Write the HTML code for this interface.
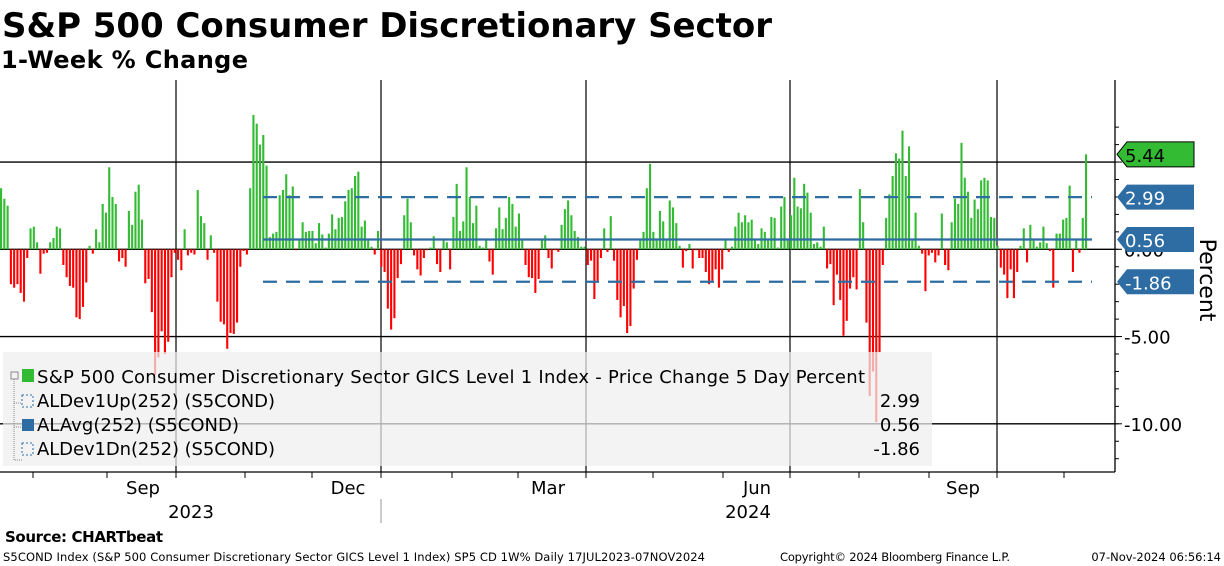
<!DOCTYPE html>
<html><head><meta charset="utf-8"><style>
body{margin:0;background:#fff;width:1224px;height:566px;overflow:hidden;font-family:"DejaVu Sans","Liberation Sans",sans-serif}
svg{position:absolute;left:0;top:0}
</style></head><body>
<svg id="c" width="1224" height="566" xmlns="http://www.w3.org/2000/svg">
<text x="2" y="37" font-size="34" font-weight="bold" font-family="DejaVu Sans,sans-serif" textLength="770">S&amp;P 500 Consumer Discretionary Sector</text>
<text x="1" y="68" font-size="24" font-weight="bold" font-family="DejaVu Sans,sans-serif" textLength="247">1-Week % Change</text>
<g id="grid"></g>
<g id="bars"></g>
<g id="lines"></g>
<rect x="3" y="352" width="929" height="114" fill="rgba(238,238,238,0.72)"/>
<g font-size="18" font-family="DejaVu Sans,sans-serif" fill="#000">
<g><rect x="11" y="372" width="7" height="7" fill="none" stroke="#888"/><rect x="22" y="369" width="12" height="13" fill="#33bb33"/><text x="37" y="383" textLength="828">S&amp;P 500 Consumer Discretionary Sector GICS Level 1 Index - Price Change 5 Day Percent</text></g>
<g><rect x="22" y="395" width="11" height="12" fill="none" stroke="#2e6ca4" stroke-dasharray="2,2"/><text x="37" y="407" textLength="238">ALDev1Up(252) (S5COND)</text><text x="920" y="407" text-anchor="end">2.99</text></g>
<g><rect x="22" y="419" width="12" height="12" fill="#2e6ca4"/><text x="37" y="431" textLength="202">ALAvg(252) (S5COND)</text><text x="920" y="431" text-anchor="end">0.56</text></g>
<g><rect x="22" y="443" width="11" height="12" fill="none" stroke="#2e6ca4" stroke-dasharray="2,2"/><text x="37" y="455" textLength="238">ALDev1Dn(252) (S5COND)</text><text x="920" y="455" text-anchor="end">-1.86</text></g>
<path d="M14 379 V460 H22 M14 403 H22 M14 427 H22" stroke="#888" fill="none" stroke-dasharray="1,1"/>
</g>
<g id="axis"></g>
<g id="xaxis"></g>
<text transform="translate(1200,280) rotate(90)" font-size="22" text-anchor="middle" font-family="DejaVu Sans,sans-serif">Percent</text>
<text x="5" y="542" font-size="15" font-weight="bold" font-family="DejaVu Sans,sans-serif" textLength="158">Source: CHARTbeat</text>
<text x="3" y="561" font-size="11.5" font-family="DejaVu Sans,sans-serif" textLength="702">S5COND Index (S&amp;P 500 Consumer Discretionary Sector GICS Level 1 Index) SP5 CD 1W%  Daily 17JUL2023-07NOV2024</text>
<text x="780" y="561" font-size="11.5" font-family="DejaVu Sans,sans-serif" textLength="230">Copyright© 2024 Bloomberg Finance L.P.</text>
<text x="1221" y="561" font-size="11.5" text-anchor="end" font-family="DejaVu Sans,sans-serif">07-Nov-2024 06:56:14</text>
</svg>
<script>
const values=[3.5,2.9,2.5,-2.0,-2.2,-2.0,-2.5,-3.0,-0.5,1.2,1.3,0.4,-1.4,-0.25,-0.2,0.4,0.65,1.3,1.2,-0.9,-1.6,-2.1,-2.2,-3.9,-4.0,-3.3,-1.9,0.2,-0.25,1.15,0.4,2.6,2.1,4.7,3.0,2.6,-0.7,-0.5,-1.0,2.2,1.4,3.3,3.7,1.7,-1.95,-1.7,-3.6,-7.2,-6.2,-4.7,-6.0,-5.3,-1.6,-0.2,-0.6,-1.2,1.15,-0.35,
-0.2,-0.3,3.4,1.9,1.5,-0.6,0.8,-0.2,-3.0,-4.15,-4.3,-5.7,-4.8,-4.85,-4.2,-1.0,-0.1,-0.3,3.5,7.7,7.2,6.0,6.55,4.8,0.7,0.9,1.0,3.1,3.4,4.3,3.1,3.6,-0.05,0.5,1.55,1.0,1.05,1.05,0.35,1.5,0.85,0.1,0.9,2.0,1.15,1.8,1.85,2.75,3.4,3.5,4.2,4.45,1.3,1.65,0.5,0.15,-0.3,1.05,-1.0,-1.3,
-3.4,-4.6,-3.95,-1.65,-0.85,1.95,2.9,1.55,-0.35,-1.15,-1.5,-0.5,-0.05,0.1,0.75,-0.85,-1.3,0.5,0.4,-1.15,1.85,3.75,1.05,1.6,4.7,3.0,1.5,2.5,0.2,0.1,0.5,-0.7,-1.45,1.2,2.4,1.15,1.8,3.0,2.6,1.3,2.05,0.5,-0.9,-1.6,-1.65,-2.5,-1.7,0.6,0.8,-0.5,-1.1,-0.05,-0.15,1.4,2.3,2.8,1.95,1.05,0.7,
0.15,0.15,-0.9,-0.65,-2.85,-1.8,-0.5,1.2,-0.15,1.9,-0.65,-2.9,-3.9,-3.25,-4.8,-4.4,-2.25,-0.6,0.5,1.0,3.5,4.9,1.0,0.5,2.2,1.6,0.5,2.8,2.4,1.5,0.2,-1.05,-0.1,0.3,-1.1,-0.05,-0.5,-0.5,-1.3,-2.0,-1.8,-1.15,-2.2,-1.15,0.5,-0.15,0.15,1.3,2.1,1.55,1.95,1.55,1.7,0.5,0.3,1.2,1.0,0.5,1.85,1.8,
0.1,2.45,3.0,0.5,1.95,4.1,2.45,2.35,3.75,3.25,2.1,0.3,0.4,0.15,1.3,-1.1,-0.85,-3.2,-1.45,-2.9,-4.95,-4.1,-2.25,-1.6,-2.3,3.45,1.55,-4.2,-8.4,-7.0,-9.9,-5.9,-0.9,1.8,3.15,4.2,5.5,5.2,6.8,4.2,5.9,0.5,2.1,0.2,-0.25,-2.4,-0.35,-0.2,-0.75,-0.35,2.05,-0.9,-1.2,
1.55,2.9,2.6,6.1,4.1,3.3,1.8,2.85,2.3,3.95,4.1,3.95,1.85,1.8,0.2,-1.05,-1.45,-2.8,-1.15,-2.8,-1.3,0.2,1.2,-0.75,1.4,0.5,0.15,0.4,1.3,0.35,-0.1,-2.2,0.9,0.9,1.7,1.8,3.65,-1.3,0.5,-0.2,1.8,5.44];
const bandValues=[2.99,0.56,-1.86];
const bandNames=['dev-up-line','avg-line','dev-down-line'];
const tagValues=[5.44,2.99,0.56,-1.86];
const tagLabels=['5.44','2.99','0.56','-1.86'];
const yTicks=[5,0,-5,-10];
const yTickLabels=['','0.00','-5.00','-10.00'];
const monthLabels=['Sep','Dec','Mar','Jun','Sep'];
const monthLabelX=[143,348,548,757,963];
const quarterLines=[176,381,586,790,997];
const yearLabels=['2023','2024'];
const yearLabelX=[191,748];

const NS='http://www.w3.org/2000/svg';
const y=v=>249.3-v*17.45;
const x0=1,x1=1086;
const xb=i=>x0+i*(x1-x0)/(values.length-1);
function mk(tag,attrs,parent){const e=document.createElementNS(NS,tag);for(const k in attrs)e.setAttribute(k,attrs[k]);parent.appendChild(e);return e;}
const grid=document.getElementById('grid');
yTicks.forEach(t=>{const l=mk('line',{x1:0,x2:1115,y1:y(t),y2:y(t),stroke:'#000','stroke-width':1.3},grid);

});
quarterLines.forEach(q=>{const l=mk('line',{x1:q,x2:q,y1:80,y2:472,stroke:'#000','stroke-width':1.2},grid);

});
const bars=document.getElementById('bars');
values.forEach((v,i)=>{const top=Math.min(y(v),y(0)),h=Math.max(Math.abs(y(v)-y(0)),0.8);
const r=mk('rect',{x:xb(i)-1,y:top,width:2.1,height:h,fill:v>=0?'#33bb33':'#ff0000'},bars);

});
const lines=document.getElementById('lines');
bandValues.forEach((b,i)=>{const l=mk('line',{x1:263,x2:1092,y1:y(b),y2:y(b),stroke:'#2e6ca4','stroke-width':2.2},lines);
if(i!==1)l.setAttribute('stroke-dasharray','14,9');

});
const ax=document.getElementById('axis');
mk('line',{x1:1115,x2:1115,y1:80,y2:472,stroke:'#000','stroke-width':1.3},ax);
mk('line',{x1:0,x2:1115,y1:472,y2:472,stroke:'#000','stroke-width':1.3},ax);
yTicks.forEach((t,i)=>{mk('line',{x1:1115,x2:1122,y1:y(t),y2:y(t),stroke:'#000'},ax);
const tx=mk('text',{x:1124,y:y(t)+7,'font-size':18},ax);tx.textContent=yTickLabels[i];

});
for(let v=-12;v<=7;v++){mk('line',{x1:1115,x2:1119,y1:y(v),y2:y(v),stroke:'#000'},ax);}
tagValues.forEach((t,i)=>{const cy=y(t);const g=mk('g',{},ax);


const fill=i===0?'#33bb33':'#2e6ca4';
mk('path',{d:`M1117 ${cy} L1127 ${cy-12.5} H1194 V${cy+12.5} H1127 Z`,fill:fill,stroke:i===0?'#000':'none'},g);
const tx=mk('text',{x:1125,y:cy+7.5,'font-size':18,fill:i===0?'#000':'#fff'},g);tx.textContent=tagLabels[i];});
const xa=document.getElementById('xaxis');
const monthTicks=[33,107,176,245,312,381,452,518,586,653,723,790,859,929,997,1064];
monthTicks.forEach(m=>mk('line',{x1:m,x2:m,y1:472,y2:478,stroke:'#000'},xa));
monthLabels.forEach((m,i)=>{const t=mk('text',{x:monthLabelX[i],y:494,'font-size':18,'text-anchor':'middle'},xa);t.textContent=m;

});
yearLabels.forEach((m,i)=>{const t=mk('text',{x:yearLabelX[i],y:518,'font-size':18,'text-anchor':'middle'},xa);t.textContent=m;

});
mk('line',{x1:381,x2:381,y1:499,y2:523,stroke:'#999'},xa);
</script>
</body></html>
